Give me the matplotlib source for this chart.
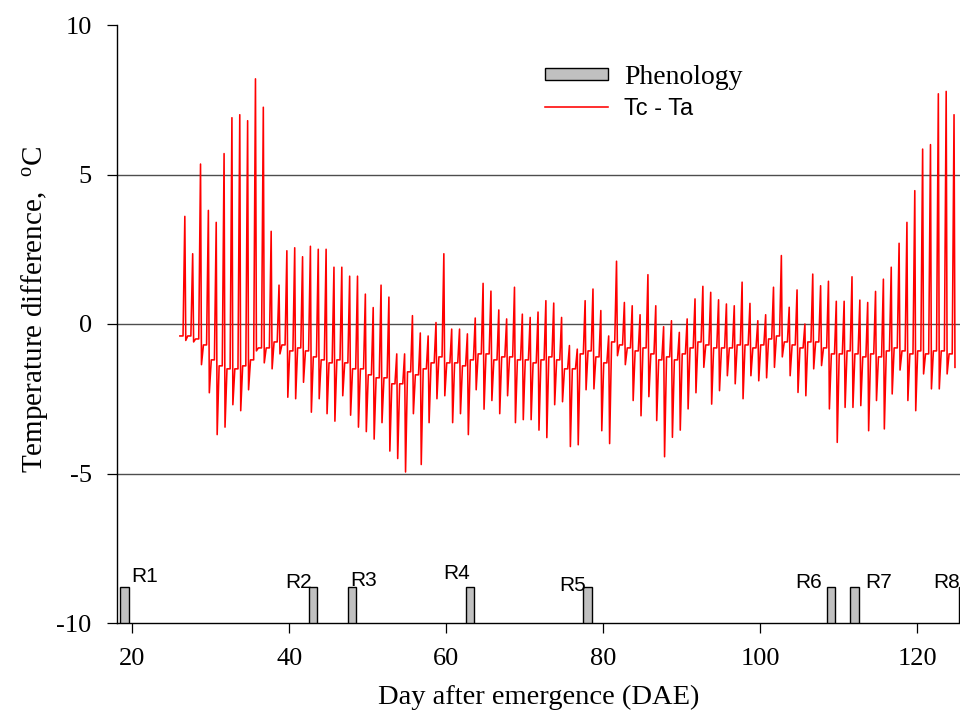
import matplotlib
matplotlib.use("Agg")
import matplotlib.pyplot as plt

plt.rcParams['font.family'] = ['Liberation Serif', 'DejaVu Serif']
plt.rcParams['mathtext.fontset'] = 'custom'
plt.rcParams['mathtext.rm'] = 'Liberation Serif'
plt.rcParams['mathtext.it'] = 'Liberation Serif'
plt.rcParams['axes.unicode_minus'] = False

# ---------------- data ----------------
days = list(range(26, 125))

peak = [3.6, 2.35, 5.35, 3.8, 3.4, 5.7, 6.9, 7.0, 6.8, 8.2,          # 26-35
        7.25, 3.1, 1.3, 2.45, 2.55, 2.25, 2.6, 2.5, 2.5, 1.9,        # 36-45
        1.9, 1.6, 1.6, 1.0, 0.55, 1.3, 0.9, -1.0, -1.0, 0.28,        # 46-55
        -0.3, -0.4, 0.05, 2.35, -0.17, -0.17, -0.33, 0.2, 1.36, 1.1,  # 56-65
        0.47, 0.17, 1.23, 0.33, 0.22, 0.4, 0.78, 0.7, 0.22, -0.72,    # 66-75
        -0.84, 0.78, 1.17, 0.45, -0.4, 2.1, 0.72, 0.61, 0.31, 1.65,   # 76-85
        0.61, -0.09, 0.11, -0.28, 0.17, 0.84, 1.26, 1.06, 0.81, 0.67, # 86-95
        0.61, 1.4, 0.69, 0.11, 0.31, 1.23, 2.29, 0.56, 1.14, 0.0,     # 96-105
        1.67, 1.28, 1.43, 0.76, 0.76, 1.58, 0.8, 0.72, 1.09, 1.5,     # 106-115
        1.9, 2.7, 3.4, 4.46, 5.85, 6.0, 7.7, 7.78, 7.0]               # 116-124

trough = [-0.55, -0.6, -1.36, -2.3, -3.7, -3.45, -2.7, -2.9, -2.2, -0.9,     # 26-35
          -1.3, -1.5, -1.0, -2.45, -2.5, -1.95, -2.95, -2.5, -3.0, -3.25,    # 36-45
          -2.4, -3.05, -3.45, -3.6, -3.85, -3.3, -4.25, -4.5, -4.95, -3.0,   # 46-55
          -4.7, -3.3, -2.5, -2.4, -3.3, -3.0, -3.7, -2.2, -2.85, -2.56,      # 56-65
          -3.0, -2.4, -3.3, -3.2, -3.2, -3.55, -3.8, -2.7, -2.6, -4.1,       # 66-75
          -4.04, -2.2, -2.17, -3.57, -4.0, -1.06, -1.36, -2.56, -3.07, -2.43,# 76-85
          -3.23, -4.44, -3.79, -3.55, -2.84, -2.3, -1.45, -2.68, -2.23, -1.73,# 86-95
          -2.0, -2.5, -1.73, -1.9, -1.8, -1.45, -1.1, -1.73, -2.29, -2.4,    # 96-105
          -1.5, -1.39, -2.84, -3.96, -2.79, -2.79, -2.73, -3.57, -2.56, -3.51,# 106-115
          -2.34, -1.54, -2.56, -2.9, -1.67, -2.17, -2.17, -1.67, -1.45]      # 116-124

night = [-0.4, -0.4, -0.5, -0.7,
         -1.2, -1.4, -1.5, -1.5, -1.4, -1.2,
         -0.8, -0.8, -0.6, -0.7, -0.9, -0.8, -0.9,
         -1.1, -1.2, -1.3, -1.2, -1.3, -1.5, -1.5, -1.7, -1.8, -1.8, -2.0, -2.0, -1.6, -1.7, -1.5, -1.3,
         -1.1, -1.3, -1.3, -1.4, -1.2, -1.0, -1.0, -1.2, -1.1, -1.1, -1.2, -1.2, -1.3, -1.2, -1.1, -1.2,
         -1.5, -1.5, -1.0, -0.9, -1.1, -1.3,
         -0.6, -0.7, -0.8, -0.9, -0.8, -1.0, -1.2, -1.1, -1.2, -1.0, -0.8, -0.6, -0.7, -0.8, -0.8,
         -0.8, -0.7, -0.7, -0.8, -0.7, -0.5, -0.4, -0.6, -0.7, -0.8, -0.6, -0.6, -0.8,
         -1.0, -1.0, -0.9, -1.0, -1.1, -1.0, -1.1, -0.9, -0.8, -0.9, -1.0, -0.9, -1.0, -0.9, -0.9, -1.0]

phen_days = [19, 43, 48, 63, 78, 109, 112, 125.9]
phen_labels = ['R1', 'R2', 'R3', 'R4', 'R5', 'R6', 'R7', 'R8']
phen_height = 1.2

xticks = [20, 40, 60, 80, 100, 120]
yticks = [-10, -5, 0, 5, 10]

# ---------------- layout ----------------
label_pos = [(21.6, -8.45), (41.2, -8.66), (49.4, -8.58), (61.3, -8.35),
             (76.1, -8.76), (106.1, -8.64), (115.1, -8.64), (123.7, -8.66)]

# intraday sampling: night level (two samples), midday peak, afternoon trough
t, v = [], []
for d, n, p, tr in zip(days, night, peak, trough):
    t += [d + 0.05, d + 0.45, d + 0.68, d + 0.80]
    v += [n, n, p, tr]

W, H = 960, 710
fig = plt.figure(figsize=(W / 100, H / 100), dpi=100)
left_px, right_px, top_px, bot_px = 116.7, 960, 25, 623
ax = fig.add_axes([left_px / W, (H - bot_px) / H, (right_px - left_px) / W, (bot_px - top_px) / H])
ax.set_xlim(18.0, 125.44)
ax.set_ylim(-10, 10)

for y in (-5, 0, 5):
    ax.axhline(y, color='#4d4d4d', lw=1.0, zorder=1)

line, = ax.plot(t, v, color='#ff0000', lw=1.15, zorder=2, label='Tc - Ta')
bars = ax.bar(phen_days, phen_height, bottom=-10, width=1.1, color='#c0c0c0',
              edgecolor='black', lw=1.0, zorder=3, label='Phenology')

for lab, (x, y) in zip(phen_labels, label_pos):
    ax.text(x, y, lab, ha='center', va='center', fontsize=15,
            family=['Liberation Sans', 'DejaVu Sans'], zorder=4, clip_on=False)

ax.spines['top'].set_visible(False)
ax.spines['right'].set_visible(False)
ax.spines['left'].set_linewidth(1.0)
ax.spines['bottom'].set_linewidth(1.0)
ax.set_xticks(xticks)
ax.set_yticks(yticks)
ax.tick_params(direction='out', length=7, width=0.9, labelsize=19, pad=11)

ax.set_xlabel('Day after emergence (DAE)', fontsize=20.5, labelpad=11)
ax.set_ylabel(r'Temperature difference, $\ ^{\mathrm{o}}$C', fontsize=21)
ax.yaxis.set_label_coords(-0.079, 0.525)

leg = ax.legend([bars, line], ['Phenology', 'Tc - Ta'], loc='upper left',
                bbox_to_anchor=(0.508, 0.933), frameon=False, fontsize=20,
                handlelength=2.27, handleheight=0.3, handletextpad=0.58,
                labelspacing=0.28, borderpad=0, borderaxespad=0)
leg.get_texts()[1].set_fontfamily(['Liberation Sans', 'DejaVu Sans'])
leg.get_texts()[1].set_fontsize(17)

fig.savefig('out.png', dpi=100)
